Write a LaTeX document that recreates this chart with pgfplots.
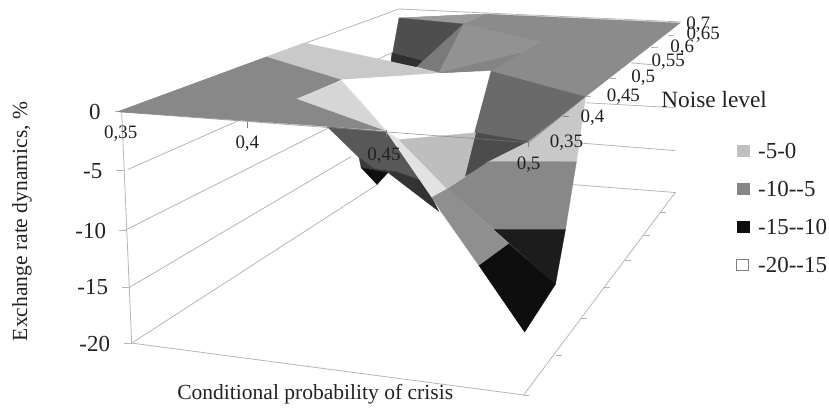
\documentclass[border=0pt]{standalone}
\usepackage{pgfplots}
\pgfplotsset{compat=1.18}
\usepackage{fontspec}
\setmainfont{Liberation Serif}
\newcommand{\dg}[1]{\definecolor{g#1}{HTML}{#1#1#1}}
\dg{8B}\dg{9A}\dg{4E}\dg{30}\dg{7A}\dg{92}\dg{84}\dg{C9}\dg{6A}\dg{4C}\dg{FF}\dg{58}\dg{3A}\dg{0E}\dg{33}\dg{88}\dg{D6}\dg{E8}\dg{E2}\dg{BE}\dg{C8}\dg{1C}\dg{8F}\dg{C0}\dg{86}
\newcommand{\poly}[2]{\addplot[fill=g#1,draw=g#1,line width=0.2pt,forget plot] coordinates {#2} --cycle;}
\newcommand{\gl}[1]{\addplot[color=lineg,line width=0.8pt,forget plot] coordinates {#1};}
\newcommand{\fa}{\fontsize{19}{19}\selectfont}
\newcommand{\fb}{\fontsize{21.6}{22}\selectfont}
\newcommand{\fc}{\fontsize{23}{23}\selectfont}
\definecolor{lineg}{HTML}{B5B5B5}
\definecolor{txt}{HTML}{222222}
\begin{document}
\begin{tikzpicture}
\begin{axis}[
  width=829pt,height=410pt,scale only axis,
  xmin=0,xmax=829,ymin=0,ymax=410,y dir=reverse,
  axis lines=none,clip=false,
  legend style={at={(axis cs:738,141)},anchor=north west,draw=none,fill=none,
    font=\fc,text=txt,row sep=17.5pt,inner sep=0pt,
    /tikz/every odd column/.append style={column sep=7pt}},
  legend cell align=left,
  legend image code/.code={\draw[#1] (0pt,-5pt) rectangle (12pt,6pt);},
]
% walls and floor
\gl{(118,112)(400,9)(683,22)}
\gl{(128,170)(393,53)}
\gl{(125,231)(330,128)}
\gl{(130,288)(352,157)}
\gl{(132,344)(380,184)}
\gl{(122,112)(132,344)(525,396)(677,193)(573,185)}
\gl{(587,103)(677,108)}
\gl{(577,143)(677,151)}
\gl{(115,112)(122,112)}
\gl{(116,171)(125,171)}
\gl{(119,231)(127,231)}
\gl{(122,288)(130,288)}
\gl{(124,344)(132,344)}
\gl{(662,213)(668,213)}
\gl{(646,236)(652,236)}
\gl{(627,261)(633,261)}
\gl{(606,288)(612,288)}
\gl{(583,319)(589,319)}
\gl{(557,356)(563,356)}
\gl{(525,396)(530,396)}
\gl{(670,35)(676,35)}
\gl{(653,48)(660,48)}
\gl{(633,63)(655,65)}
\gl{(612,79)(618,79)}
\gl{(587,97)(593,97)}
% back of the surface
\poly{8B}{(400,18)(487,14)(682,23)(587,97)(493,71)(440,73)(465,24)}
\poly{9A}{(400,18)(487,14)(465,24)}
\poly{4E}{(400,18)(465,24)(418,67)(392,62)}
\poly{30}{(393,53)(423,61)(418,67)(392,62)}
\poly{7A}{(465,24)(440,73)(418,67)}
\poly{92}{(465,24)(542,42)(523,53)(440,73)}
\poly{84}{(440,73)(523,53)(493,71)}
\poly{C9}{(267,57)(305,43)(393,62)(440,73)(342,80)}
\poly{6A}{(492,71)(587,97)(530,142)(475,134)}
\poly{4C}{(477,133)(530,142)(466,177)}
\poly{FF}{(342,80)(492,71)(475,134)(397,139)(387,132)}
% dark underside, left
\poly{58}{(328,127)(387,132)(433,198)(420,180)(397,172)(375,169)(360,158)}
\poly{3A}{(360,158)(375,169)(397,172)(389,173)(372,170)(362,168)}
\poly{0E}{(362,168)(378,185)(389,173)(372,170)}
\poly{33}{(389,173)(397,172)(420,180)(433,198)(440,212)}
% left sheet
\poly{88}{(118,112)(267,57)(342,80)(298,99)(387,131)}
\poly{D6}{(342,81)(298,99)(387,131)}
\poly{E8}{(342,80)(365,105)(387,131)}
% front facets
\poly{E2}{(388,132)(400,140)(448,189)(433,198)}
\poly{BE}{(400,140)(477,133)(466,177)(448,189)}
\poly{C8}{(587,98)(578,162)(488,163)(530,142)}
\poly{88}{(490,162)(578,162)(567,230)(495,230)(449,189)}
\poly{1C}{(495,230)(567,230)(557,285)}
\poly{0E}{(510,244)(557,285)(526,333)(480,266)}
\poly{8F}{(433,198)(449,189)(510,244)(480,266)(442,212)}
% axes drawn over the surface
\addplot[color=gray,line width=0.7pt,opacity=.7,forget plot] coordinates {(118,112)(530,143)(587,97)};
\addplot[color=gray,line width=0.7pt,forget plot] coordinates {(248,122)(248,128)};
\addplot[color=gray,line width=0.7pt,forget plot] coordinates {(387,130)(387,137)};
\addplot[color=gray,line width=0.7pt,forget plot] coordinates {(530,140)(530,147)};
\addplot[color=gray,line width=0.7pt,forget plot] coordinates {(564,117)(570,117)};
% legend
\addlegendimage{fill=gC0,draw=gC0}
\addlegendentry{-5-0}
\addlegendimage{fill=g86,draw=g86}
\addlegendentry{-10{-}{-}5}
\addlegendimage{fill=g0E,draw=g0E}
\addlegendentry{-15{-}{-}10}
\addlegendimage{fill=white,draw=gray,line width=1pt}
\addlegendentry{-20{-}{-}15}
% texts
\path (axis cs:0,0) rectangle (axis cs:829,410);
\tikzset{every node/.style={text=txt}}
\node at (axis cs:95,112) {\fc 0};
\node at (axis cs:93,172) {\fc -5};
\node at (axis cs:91,232) {\fc -10};
\node at (axis cs:93,288) {\fc -15};
\node at (axis cs:95,345) {\fc -20};
\node at (axis cs:121,134) {\fa 0,35};
\node at (axis cs:248,144) {\fa 0,4};
\node at (axis cs:385,156) {\fa 0,45};
\node at (axis cs:530,165) {\fa 0,5};
\node at (axis cs:568,143) {\fa 0,35};
\node at (axis cs:594,118) {\fa 0,4};
\node at (axis cs:625,97) {\fa 0,45};
\node at (axis cs:645,78) {\fa 0,5};
\node at (axis cs:670,62) {\fa 0,55};
\node at (axis cs:684,48) {\fa 0,6};
\node at (axis cs:705,35) {\fa 0,65};
\node at (axis cs:700,25) {\fa 0,7};
\node at (axis cs:716,100) {\fontsize{23.4}{24}\selectfont Noise level};
\node at (axis cs:316,395) {\fb Conditional probability of crisis};
\node[rotate=90] at (axis cs:22,222) {\fb Exchange rate dynamics, \%};
\end{axis}
\end{tikzpicture}
\end{document}
